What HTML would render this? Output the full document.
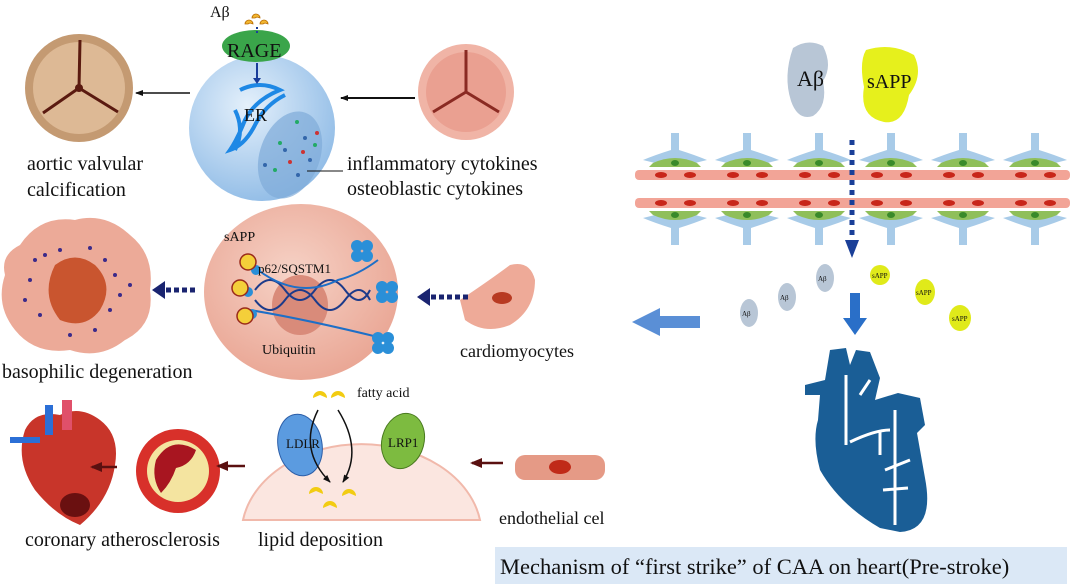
<!DOCTYPE html>
<html><head><meta charset="utf-8"><style>
html,body{margin:0;padding:0;background:#fff}
svg{display:block}
text{font-family:"Liberation Serif",serif;fill:#111}
</style></head><body>
<svg width="1072" height="587" viewBox="0 0 1072 587" xmlns="http://www.w3.org/2000/svg">
<defs>
<marker id="ah" markerWidth="8" markerHeight="8" refX="7" refY="4" orient="auto" markerUnits="userSpaceOnUse"><path d="M0,1 L8,4 L0,7z" fill="#111"/></marker>
<marker id="ahr" markerWidth="12" markerHeight="10" refX="10" refY="5" orient="auto" markerUnits="userSpaceOnUse"><path d="M0,0 L12,5 L0,10z" fill="#5a1010"/></marker>
<radialGradient id="cellb" cx="40%" cy="35%" r="70%"><stop offset="0" stop-color="#e4f0fb"/><stop offset="1" stop-color="#8fbbe6"/></radialGradient>
<radialGradient id="cellp" cx="45%" cy="40%" r="65%"><stop offset="0" stop-color="#f6d2c6"/><stop offset="1" stop-color="#e9a492"/></radialGradient>
<g id="astro">
<path d="M-4,-22 L4,-22 L4,-5 Q20,0 32,5 L20,8 Q0,2 -20,8 L-32,5 Q-20,0 -4,-5z" fill="#a8cbe8"/>
<path d="M-22,8 Q0,-2 22,8 L26,12 L-26,12z" fill="#8fbf5a"/>
<ellipse cx="0" cy="8" rx="4" ry="3" fill="#3a8a2a"/>
</g>
</defs>

<!-- Top: aortic valve left -->
<circle cx="79" cy="88" r="54" fill="#c49a72"/>
<circle cx="79" cy="88" r="46" fill="#ddb995"/>
<path d="M79,88 L80,40 M79,88 L43,113 M79,88 L118,112" stroke="#5a1a10" stroke-width="3"/>
<circle cx="79" cy="88" r="4" fill="#5a1a10"/>
<line x1="190" y1="93" x2="136" y2="93" stroke="#111" stroke-width="1.5" marker-end="url(#ah)"/>

<!-- Blue cell -->
<circle cx="262" cy="128" r="73" fill="url(#cellb)"/>
<ellipse cx="290" cy="155" rx="30" ry="45" transform="rotate(20 290 155)" fill="#7fabd9" opacity="0.7"/>
<path d="M240,90 q20,-10 40,0 q-25,10 -35,30 q-8,20 -15,30 q15,-5 25,-25 q10,-20 30,-30 M235,110 q10,20 0,40" stroke="#1e88e5" stroke-width="4" fill="none"/>
<g fill="#2a6">
<circle cx="297" cy="122" r="2"/><circle cx="280" cy="143" r="2"/><circle cx="315" cy="145" r="2"/><circle cx="275" cy="170" r="2"/></g>
<g fill="#c33"><circle cx="317" cy="133" r="2"/><circle cx="290" cy="162" r="2"/><circle cx="303" cy="152" r="2"/></g>
<g fill="#36a"><circle cx="305" cy="138" r="2"/><circle cx="285" cy="150" r="2"/><circle cx="310" cy="160" r="2"/><circle cx="298" cy="175" r="2"/><circle cx="265" cy="165" r="2"/></g>
<ellipse cx="256" cy="46" rx="34" ry="16" fill="#3aa54a"/>
<text x="227" y="57" font-size="20">RAGE</text>
<text x="244" y="121" font-size="18">ER</text>
<line x1="257" y1="63" x2="257" y2="80" stroke="#1a3d9a" stroke-width="2"/>
<path d="M253,78 L261,78 L257,84z" fill="#1a3d9a"/>
<text x="210" y="17" font-size="16">Aβ</text>
<g fill="#f2b731" stroke="#b86b00" stroke-width="0.8">
<path d="M245,24 a4,4 0 1 1 8,0 l-3,-1 l-2,1z"/><path d="M252,18 a4,4 0 1 1 8,0 l-3,-1 l-2,1z"/><path d="M260,24 a4,4 0 1 1 8,0 l-3,-1 l-2,1z"/></g>
<line x1="257" y1="27" x2="257" y2="33" stroke="#1a3d9a" stroke-width="2" stroke-dasharray="2,2"/>
<line x1="307" y1="171" x2="343" y2="171" stroke="#111" stroke-width="1"/>

<!-- pink valve -->
<circle cx="466" cy="92" r="48" fill="#f0b4a6"/>
<circle cx="466" cy="92" r="40" fill="#eaa091"/>
<path d="M466,92 L466,50 M466,92 L433,112 M466,92 L499,112" stroke="#8a2a22" stroke-width="3"/>
<line x1="415" y1="98" x2="341" y2="98" stroke="#111" stroke-width="2" marker-end="url(#ah)"/>

<text x="27" y="170" font-size="20">aortic valvular</text>
<text x="27" y="196" font-size="20">calcification</text>
<text x="347" y="170" font-size="20">inflammatory cytokines</text>
<text x="347" y="195" font-size="20">osteoblastic cytokines</text>

<!-- middle pink cell -->
<ellipse cx="301" cy="292" rx="97" ry="88" fill="url(#cellp)"/>
<ellipse cx="300" cy="305" rx="28" ry="30" fill="#d98b7a"/>
<path d="M255,290 q15,-20 30,0 t30,0 t30,0 t25,0 M255,300 q15,20 30,0 t30,0 t30,0 t25,0" stroke="#1d3b8a" stroke-width="2" fill="none"/>
<path d="M258,270 q40,30 80,10 q20,-5 40,-20 M250,310 q60,10 140,30" stroke="#1e6fc7" stroke-width="2" fill="none"/>
<g fill="#2a8fd8">
<circle cx="357" cy="246" r="6"/><circle cx="367" cy="246" r="6"/><circle cx="357" cy="256" r="6"/><circle cx="367" cy="256" r="6"/>
<circle cx="382" cy="287" r="6"/><circle cx="392" cy="287" r="6"/><circle cx="382" cy="297" r="6"/><circle cx="392" cy="297" r="6"/>
<circle cx="378" cy="338" r="6"/><circle cx="388" cy="338" r="6"/><circle cx="378" cy="348" r="6"/><circle cx="388" cy="348" r="6"/>
<circle cx="256" cy="270" r="5"/><circle cx="248" cy="292" r="5"/><circle cx="252" cy="314" r="5"/></g>
<g fill="#f4cf3a" stroke="#9a2a1a" stroke-width="1.5">
<circle cx="248" cy="262" r="8"/><circle cx="240" cy="288" r="8"/><circle cx="245" cy="316" r="8"/></g>
<text x="224" y="241" font-size="14">sAPP</text>
<text x="258" y="273" font-size="13">p62/SQSTM1</text>
<text x="262" y="354" font-size="14">Ubiquitin</text>

<!-- basophilic cell -->
<path d="M20,245 q20,-30 55,-25 q30,-8 55,15 q25,20 20,55 q5,35 -25,50 q-25,20 -55,10 q-35,5 -55,-20 q-20,-25 -10,-55 q-5,-20 15,-30z" fill="#ecaa98"/>
<path d="M55,265 q20,-15 40,0 q20,20 5,45 q-15,20 -40,10 q-20,-25 -5,-55z" fill="#c9552f"/>
<g fill="#3b2a8a">
<circle cx="35" cy="260" r="2"/><circle cx="45" cy="255" r="2"/><circle cx="30" cy="280" r="2"/><circle cx="105" cy="260" r="2"/><circle cx="115" cy="275" r="2"/><circle cx="120" cy="295" r="2"/><circle cx="110" cy="310" r="2"/><circle cx="40" cy="315" r="2"/><circle cx="60" cy="250" r="2"/><circle cx="90" cy="248" r="2"/><circle cx="130" cy="285" r="2"/><circle cx="25" cy="300" r="2"/><circle cx="95" cy="330" r="2"/><circle cx="70" cy="335" r="2"/></g>
<line x1="195" y1="290" x2="162" y2="290" stroke="#1a2470" stroke-width="5" stroke-dasharray="5,3"/>
<path d="M165,281 L152,290 L165,299z" fill="#1a2470"/>
<text x="2" y="378" font-size="20">basophilic degeneration</text>

<!-- cardiomyocyte -->
<path d="M460,300 q30,-20 50,-35 q20,-5 25,15 q0,30 -25,45 q-25,10 -45,-5z" fill="#eeaa98"/>
<ellipse cx="502" cy="298" rx="10" ry="6" fill="#b83a22"/>
<line x1="468" y1="297" x2="427" y2="297" stroke="#1a2470" stroke-width="5" stroke-dasharray="5,3"/>
<path d="M430,288 L417,297 L430,306z" fill="#1a2470"/>
<text x="460" y="357" font-size="18">cardiomyocytes</text>

<!-- big blue left arrow -->
<path d="M700,316 L660,316 L660,308 L632,322 L660,336 L660,328 L700,328z" fill="#5a8fd6"/>

<!-- bottom row -->
<path d="M25,430 q10,-20 35,-15 q20,-10 40,5 q20,15 15,45 q-5,35 -35,60 q-25,-10 -45,-35 q-20,-30 -10,-60z" fill="#c8352a"/>
<rect x="45" y="405" width="8" height="30" fill="#2b6fd6"/><rect x="62" y="400" width="10" height="30" fill="#e0506a"/>
<rect x="10" y="437" width="30" height="6" fill="#2b6fd6"/>
<ellipse cx="75" cy="505" rx="15" ry="12" fill="#6a1010"/>
<line x1="117" y1="467" x2="92" y2="467" stroke="#5a1010" stroke-width="2.5" marker-end="url(#ahr)"/>
<circle cx="178" cy="471" r="42" fill="#d8302a"/>
<circle cx="178" cy="471" r="31" fill="#f4e4a0"/>
<path d="M156,460 q15,-25 40,-10 q-5,15 -20,18 q-5,15 -15,25 q-10,-15 -5,-33z" fill="#a81520"/>
<line x1="245" y1="466" x2="218" y2="466" stroke="#5a1010" stroke-width="2.5" marker-end="url(#ahr)"/>
<path d="M243,520 A120,90 0 0 1 480,520 Z" fill="#fbe6e0" stroke="#f1b9ab" stroke-width="2"/>
<ellipse cx="300" cy="445" rx="22" ry="31" transform="rotate(-10 300 445)" fill="#5b9be0" stroke="#2c5ea8"/>
<ellipse cx="403" cy="441" rx="21" ry="28" transform="rotate(15 403 441)" fill="#7dbb40" stroke="#4a7a20"/>
<text x="286" y="448" font-size="13">LDLR</text>
<text x="388" y="447" font-size="13">LRP1</text>
<path d="M318,410 q-20,40 12,72" stroke="#111" stroke-width="1.5" fill="none" marker-end="url(#ah)"/>
<path d="M338,410 q25,40 5,72" stroke="#111" stroke-width="1.5" fill="none" marker-end="url(#ah)"/>
<g fill="#f2cc12"><path d="M313,398 a7,7 0 1 1 14,0 l-7,-3z"/><path d="M331,398 a7,7 0 1 1 14,0 l-7,-3z"/>
<path d="M309,494 a7,7 0 1 1 14,0 l-7,-3z"/><path d="M323,508 a7,7 0 1 1 14,0 l-7,-3z"/><path d="M342,496 a7,7 0 1 1 14,0 l-7,-3z"/></g>
<text x="357" y="397" font-size="14">fatty acid</text>
<line x1="503" y1="463" x2="472" y2="463" stroke="#5a1010" stroke-width="2.5" marker-end="url(#ahr)"/>
<rect x="515" y="455" width="90" height="25" rx="10" fill="#e59a86"/>
<ellipse cx="560" cy="467" rx="11" ry="7" fill="#c02a18"/>
<text x="25" y="546" font-size="20">coronary  atherosclerosis</text>
<text x="258" y="546" font-size="20">lipid deposition</text>
<text x="499" y="524" font-size="18">endothelial cel</text>

<!-- right side blobs -->
<path d="M793,48 q15,-10 30,-2 q10,20 0,35 q5,25 -10,35 q-15,5 -22,-15 q-8,-25 2,-53z" fill="#b8c6d6"/>
<text x="797" y="86" font-size="22">Aβ</text>
<path d="M866,50 q25,-8 48,5 q10,20 -5,40 q-5,30 -25,27 q-25,-5 -20,-35 q-5,-25 2,-37z" fill="#e6f01c"/>
<text x="867" y="88" font-size="20">sAPP</text>

<!-- vessel -->
<rect x="635" y="170" width="435" height="10" rx="4" fill="#f2a497"/>
<rect x="635" y="198" width="435" height="10" rx="4" fill="#f2a497"/>
<g fill="#c8261a">
<ellipse cx="661" cy="175" rx="6" ry="3"/><ellipse cx="690" cy="175" rx="6" ry="3"/><ellipse cx="733" cy="175" rx="6" ry="3"/><ellipse cx="762" cy="175" rx="6" ry="3"/><ellipse cx="805" cy="175" rx="6" ry="3"/><ellipse cx="834" cy="175" rx="6" ry="3"/><ellipse cx="877" cy="175" rx="6" ry="3"/><ellipse cx="906" cy="175" rx="6" ry="3"/><ellipse cx="949" cy="175" rx="6" ry="3"/><ellipse cx="978" cy="175" rx="6" ry="3"/><ellipse cx="1021" cy="175" rx="6" ry="3"/><ellipse cx="1050" cy="175" rx="6" ry="3"/>
<ellipse cx="661" cy="203" rx="6" ry="3"/><ellipse cx="690" cy="203" rx="6" ry="3"/><ellipse cx="733" cy="203" rx="6" ry="3"/><ellipse cx="762" cy="203" rx="6" ry="3"/><ellipse cx="805" cy="203" rx="6" ry="3"/><ellipse cx="834" cy="203" rx="6" ry="3"/><ellipse cx="877" cy="203" rx="6" ry="3"/><ellipse cx="906" cy="203" rx="6" ry="3"/><ellipse cx="949" cy="203" rx="6" ry="3"/><ellipse cx="978" cy="203" rx="6" ry="3"/><ellipse cx="1021" cy="203" rx="6" ry="3"/><ellipse cx="1050" cy="203" rx="6" ry="3"/></g>
<use href="#astro" x="675" y="155"/><use href="#astro" x="747" y="155"/><use href="#astro" x="819" y="155"/><use href="#astro" x="891" y="155"/><use href="#astro" x="963" y="155"/><use href="#astro" x="1035" y="155"/>
<g transform="translate(0,378) scale(1,-1)">
<use href="#astro" x="675" y="155"/><use href="#astro" x="747" y="155"/><use href="#astro" x="819" y="155"/><use href="#astro" x="891" y="155"/><use href="#astro" x="963" y="155"/><use href="#astro" x="1035" y="155"/>
</g>
<line x1="852" y1="140" x2="852" y2="240" stroke="#1a3f98" stroke-width="5" stroke-dasharray="5,5"/>
<path d="M845,240 L859,240 L852,258z" fill="#1a3f98"/>

<!-- small blobs -->
<g fill="#b8c6d6"><ellipse cx="749" cy="313" rx="9" ry="14"/><ellipse cx="787" cy="297" rx="9" ry="14"/><ellipse cx="825" cy="278" rx="9" ry="14"/></g>
<g fill="#e0ea1a"><ellipse cx="880" cy="275" rx="10" ry="10"/><ellipse cx="925" cy="292" rx="10" ry="13"/><ellipse cx="960" cy="318" rx="11" ry="13"/></g>
<g font-size="7"><text x="742" y="316">Aβ</text><text x="780" y="300">Aβ</text><text x="818" y="281">Aβ</text><text x="872" y="278">sAPP</text><text x="916" y="295">sAPP</text><text x="952" y="321">sAPP</text></g>
<path d="M850,293 L860,293 L860,318 L867,318 L855,335 L843,318 L850,318z" fill="#2a6fc8"/>

<!-- big blue heart -->
<path d="M830,350 L846,348 L850,365 L856,350 L870,352 L880,378 L875,400 L898,393 L920,398 L925,425 L917,433 L925,478 Q935,530 900,532 L880,528 Q840,505 820,470 Q812,440 818,420 L820,395 L805,395 L805,385 L825,380z" fill="#1a5e96"/>
<path d="M846,375 L846,445 M850,442 Q875,430 890,430 M880,430 L880,455 M895,410 L895,525 M885,470 L910,460 M883,490 L908,488 M860,395 L870,380" stroke="#fff" stroke-width="3" fill="none"/>

<!-- caption -->
<rect x="495" y="547" width="572" height="37" fill="#dbe8f6"/>
<text x="500" y="574" font-size="22.5">Mechanism of “first strike” of CAA on heart(Pre-stroke)</text>
</svg>
</body></html>
